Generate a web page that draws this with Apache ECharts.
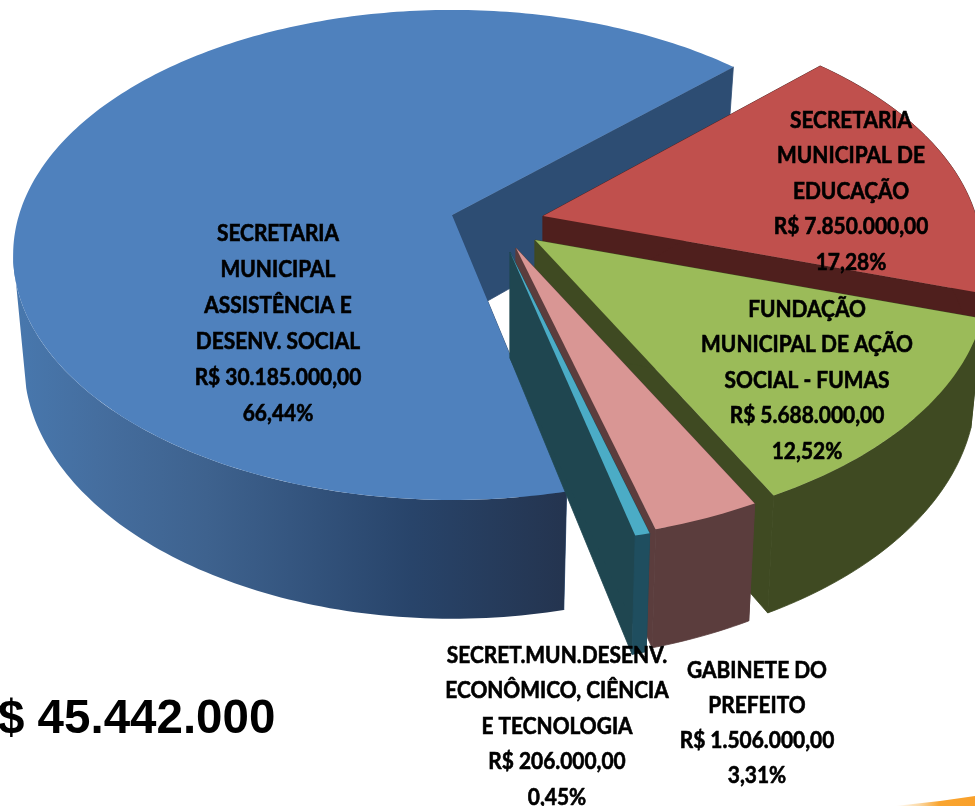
<!DOCTYPE html>
<html><head><meta charset="utf-8">
<style>html,body{margin:0;padding:0;background:#fff}#c{width:975px;height:806px}</style>
<script src="https://cdn.jsdelivr.net/npm/echarts@6/dist/echarts.min.js"></script>
</head><body><div id="c"></div>
<script>
// ---- data (pie order, counter-clockwise) ----
const categories = ['SECRETARIA\nMUNICIPAL\nASSISTÊNCIA E\nDESENV. SOCIAL',
  'SECRET.MUN.DESENV.\nECONÔMICO, CIÊNCIA\nE TECNOLOGIA',
  'GABINETE DO\nPREFEITO',
  'FUNDAÇÃO\nMUNICIPAL DE AÇÃO\nSOCIAL - FUMAS',
  'SECRETARIA\nMUNICIPAL DE\nEDUCAÇÃO'];
const values = [30185000, 206000, 1506000, 5688000, 7850000];
const valueLabels = ['R$ 30.185.000,00','R$ 206.000,00','R$ 1.506.000,00','R$ 5.688.000,00','R$ 7.850.000,00'];
const percentLabels = ['66,44%','0,45%','3,31%','12,52%','17,28%'];
const totalLabel = '$ 45.442.000';

// ---- styling / layout ----
const topColors  = ['#4F81BD','#4BACC6','#D99694','#9BBB59','#C0504D'];
const cutColors  = ['#2D4D73','#1F4650','#5B3D3D','#3F4A22','#4F1F1D'];
const rimColors  = [null,'#1F4E5F','#5B3D3D','#3F4A22','#4F1F1D'];
const apexX = [452,510,516,535,543];
const apexY = [215,252,248,240,216];
const explode = [1,1.03,1.03,1.03,1];
const rotate = [-0.8,0,0,0,0];
const zOrder = [1,5,4,3,2];
const labelX = [278,557,757,807,851];
const labelY = [216,638,653,292,103];
const labelLine = [36,35.5,35,35.5,35.5];
const startDeg = 44.5, RX = 433, RY = 238.5, K = 0.163, DEPTH = 106, DS = 1.045, XS = 0.975;
const blueRimTopStart = 189, blueRimBottomStart = 195;

const total = values.reduce((a,b)=>a+b,0);
const starts = []; let acc = startDeg;
values.forEach(v=>{starts.push(acc); acc += v/total*360;});

function pt(i,deg,bottom){
  const t = deg*Math.PI/180, X=Math.cos(t), Y=Math.sin(t), w=1+K*Y, s=explode[i];
  const dx = RX*X/w*s, dy = -RY*Y/w*s;
  return bottom ? [apexX[i]+dx*XS, apexY[i]+DEPTH+dy*DS] : [apexX[i]+dx, apexY[i]+dy];
}
function arc(i,a,b,bottom){
  const n=Math.max(2,Math.ceil(Math.abs(b-a)/1)), o=[];
  for(let j=0;j<=n;j++) o.push(pt(i,a+(b-a)*j/n,bottom));
  return o;
}
const apex=(i,b)=> b?[apexX[i],apexY[i]+DEPTH]:[apexX[i],apexY[i]];

function renderItem(params,api){
  const i=params.dataIndex, a=starts[i]+rotate[i], b=a+values[i]/total*360, z=zOrder[i]*10;
  const kids=[];
  const poly=(points,fill,dz,edge)=>kids.push({type:'polygon',z2:z+dz,shape:{points},
    style:edge?{fill,stroke:fill,lineWidth:0.8,lineJoin:'round'}:{fill}});
  // cut faces
  poly([apex(i),pt(i,a),pt(i,a,true),apex(i,true)],cutColors[i],0,true);
  poly([apex(i),pt(i,b),pt(i,b,true),apex(i,true)],cutColors[i],1,true);
  // outer rim
  if(i===0){
    const rim=new echarts.graphic.LinearGradient(0,0,1,0,[
      {offset:0,color:'#4878AE'},{offset:0.15,color:'#456E9F'},
      {offset:0.35,color:'#3E628E'},{offset:0.5,color:'#355680'},
      {offset:0.72,color:'#28446A'},{offset:1,color:'#24344F'}]);
    poly(arc(i,blueRimTopStart,b).concat(arc(i,blueRimBottomStart,b,true).reverse()),rim,2,false);
  } else {
    poly(arc(i,a,b).concat(arc(i,a,b,true).reverse()),rimColors[i],2,true);
  }
  // top
  poly([apex(i)].concat(arc(i,a,b)),topColors[i],3,false);
  return {type:'group',children:kids};
}

const textEls = categories.map((c,i)=>({
  type:'text', z:100,
  x:labelX[i], y:labelY[i], scaleX:0.95,
  style:{text:[c,valueLabels[i],percentLabels[i]].join('\n'),
    font:'bold 22px Lato', lineHeight:labelLine[i], align:'center', verticalAlign:'top',
    fill:'#000', stroke:'#000', lineWidth:0.6}
}));
textEls.push({type:'text',z:100,x:-2,y:696,style:{text:totalLabel,font:'bold 47.5px "Liberation Sans"',fill:'#000',verticalAlign:'top'}});
// decorative orange swoosh in the bottom-right corner
textEls.push({type:'polygon',z:1,shape:{points:[[895,806],[940,801],[975,796],[975,806]]},
  style:{fill:new echarts.graphic.LinearGradient(0,0,1,0,[
    {offset:0,color:'#FFFFFF'},{offset:0.3,color:'#FBD9A6'},{offset:0.55,color:'#F9A530'},{offset:1,color:'#F9A02A'}])}});

const chart=echarts.init(document.getElementById('c'),null,{renderer:'canvas'});
chart.setOption({
  animation:false,
  backgroundColor:'#fff',
  series:[{type:'custom',coordinateSystem:'none',renderItem,
    data:categories.map((c,i)=>({name:c,value:values[i]})),silent:true}],
  graphic:textEls
});
</script></body></html>
